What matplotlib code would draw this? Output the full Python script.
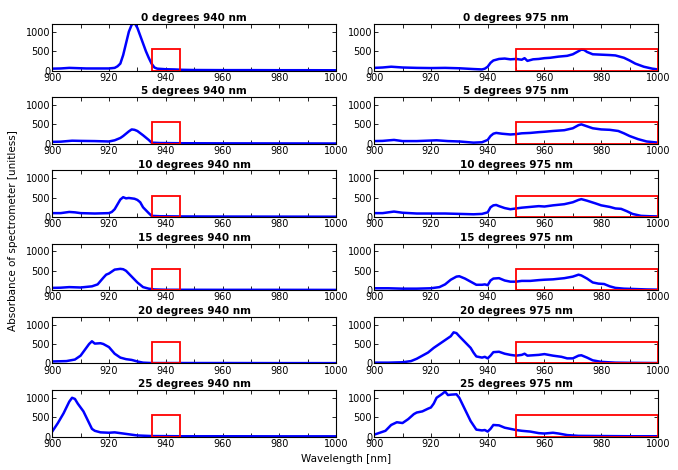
import matplotlib
matplotlib.use("Agg")
import matplotlib.pyplot as plt
import matplotlib.patches as mpatches

# Panel titles
angles = [0, 5, 10, 15, 20, 25]
bands = [940, 975]

# Integration windows per band: (start, end, height)
win_940 = (935, 945, 550)
win_975 = (950, 1000, 550)

# --- 940 nm spectra (wavelength, absorbance) ---
wl_0_940 = [900, 903, 906, 908, 912, 916, 920, 922, 923, 924, 925, 926, 927, 928, 929,
            930, 931, 932, 933, 934, 935, 936, 937, 940, 943, 946, 950, 960, 970, 980, 990, 1000]
ab_0_940 = [50, 55, 70, 65, 55, 55, 55, 70, 110, 180, 400, 700, 1000, 1180, 1230,
            1100, 900, 700, 500, 330, 180, 80, 50, 35, 30, 20, 15, 12, 12, 10, 10, 8]

wl_5_940 = [900, 903, 907, 910, 915, 920, 922, 924, 925, 927, 928, 929, 930, 932, 934,
            935, 938, 945, 960, 980, 1000]
ab_5_940 = [50, 55, 80, 75, 70, 60, 90, 150, 200, 320, 370, 360, 330, 220, 100,
            30, 20, 15, 12, 10, 8]

wl_10_940 = [900, 903, 906, 908, 910, 915, 920, 921, 922, 924, 925, 926, 927, 929, 930,
             931, 932, 934, 935, 938, 945, 960, 980, 1000]
ab_10_940 = [100, 100, 130, 120, 100, 90, 100, 130, 200, 450, 510, 480, 490, 470, 440,
             380, 250, 100, 30, 20, 15, 12, 10, 8]

wl_15_940 = [900, 903, 906, 910, 914, 916, 918, 919, 920, 922, 924, 925, 926, 928, 930,
             932, 934, 936, 940, 960, 980, 1000]
ab_15_940 = [60, 65, 80, 70, 100, 150, 320, 400, 430, 530, 550, 540, 500, 350, 200,
             80, 40, 20, 12, 10, 10, 8]

wl_20_940 = [900, 905, 908, 910, 912, 913, 914, 915, 917, 918, 920, 922, 924, 926, 928,
             930, 932, 935, 940, 960, 980, 1000]
ab_20_940 = [50, 60, 100, 200, 400, 500, 570, 510, 520, 500, 420, 250, 150, 110, 90,
             50, 20, 10, 10, 10, 8, 8]

wl_25_940 = [900, 902, 904, 906, 907, 908, 909, 910, 911, 912, 913, 914, 915, 917, 920,
             922, 925, 928, 930, 935, 945, 960, 980, 1000]
ab_25_940 = [130, 350, 600, 900, 1000, 970, 850, 750, 650, 500, 350, 200, 150, 110, 100,
             110, 80, 50, 30, 15, 10, 10, 8, 8]

# --- 975 nm spectra ---
wl_0_975 = [900, 903, 906, 910, 915, 920, 925, 930, 935, 938, 939, 940, 941, 942, 944,
            946, 948, 950, 952, 953, 954, 956, 958, 960, 962, 965, 968, 970, 972, 973,
            974, 975, 977, 980, 983, 985, 988, 990, 992, 995, 998, 1000]
ab_0_975 = [70, 80, 100, 80, 70, 65, 70, 60, 40, 30, 50, 100, 200, 260, 300,
            310, 290, 300, 280, 320, 250, 290, 300, 320, 330, 360, 380, 420, 500, 540,
            530, 480, 420, 410, 400, 390, 330, 260, 180, 100, 50, 30]

wl_5_975 = [900, 903, 907, 910, 915, 922, 926, 930, 935, 938, 940, 941, 942, 943, 945,
            948, 950, 952, 955, 958, 960, 963, 967, 970, 972, 973, 975, 977, 980, 983,
            986, 988, 990, 993, 996, 1000]
ab_5_975 = [70, 75, 100, 70, 70, 90, 70, 60, 30, 40, 100, 200, 260, 280, 260,
            240, 250, 270, 280, 300, 310, 330, 350, 400, 480, 500, 450, 400, 370, 360,
            330, 270, 200, 120, 60, 30]

wl_10_975 = [900, 903, 907, 910, 915, 920, 925, 930, 935, 938, 940, 941, 942, 943, 944,
             946, 948, 950, 952, 955, 958, 960, 963, 967, 970, 972, 973, 975, 978, 980,
             983, 985, 987, 989, 991, 994, 997, 1000]
ab_10_975 = [100, 100, 140, 110, 90, 90, 90, 80, 70, 80, 120, 250, 300, 310, 280,
             230, 200, 220, 240, 260, 280, 270, 300, 330, 380, 440, 460, 420, 350, 300,
             260, 220, 210, 150, 80, 30, 20, 15]

wl_15_975 = [900, 905, 910, 915, 920, 923, 925, 927, 929, 930, 932, 934, 936, 938, 939,
             940, 941, 942, 944, 946, 948, 950, 952, 955, 958, 960, 963, 967, 970, 972,
             973, 975, 977, 979, 981, 983, 985, 988, 992, 996, 1000]
ab_15_975 = [50, 50, 40, 40, 50, 80, 150, 270, 350, 360, 300, 220, 140, 140, 150,
             130, 250, 300, 310, 250, 220, 220, 240, 240, 260, 270, 280, 310, 350, 400,
             380, 300, 200, 170, 160, 100, 60, 40, 30, 20, 15]

wl_20_975 = [900, 905, 910, 913, 915, 917, 919, 921, 923, 925, 927, 928, 929, 930, 932,
             934, 935, 936, 938, 939, 940, 941, 942, 944, 946, 948, 950, 952, 953, 954,
             956, 958, 960, 963, 966, 968, 970, 972, 973, 975, 977, 980, 985, 990, 1000]
ab_20_975 = [20, 20, 30, 60, 120, 200, 280, 400, 500, 600, 700, 800, 780, 700, 550,
             400, 280, 180, 150, 170, 130, 200, 290, 300, 250, 220, 200, 220, 250, 200,
             210, 220, 240, 200, 170, 130, 130, 200, 210, 150, 80, 40, 20, 15, 10]

wl_25_975 = [900, 902, 904, 906, 908, 910, 912, 914, 915, 917, 919, 920, 921, 922, 924,
             925, 926, 927, 929, 930, 932, 934, 936, 938, 939, 940, 941, 942, 944, 946,
             948, 950, 952, 955, 958, 960, 963, 965, 968, 972, 980, 990, 1000]
ab_25_975 = [50, 100, 150, 300, 370, 350, 450, 580, 620, 650, 720, 750, 850, 1000, 1100,
             1160, 1070, 1080, 1090, 1000, 700, 400, 180, 160, 170, 130, 200, 300, 290, 230,
             200, 170, 150, 130, 90, 80, 100, 80, 40, 20, 15, 10, 10]

spectra_940 = [(wl_0_940, ab_0_940), (wl_5_940, ab_5_940), (wl_10_940, ab_10_940),
               (wl_15_940, ab_15_940), (wl_20_940, ab_20_940), (wl_25_940, ab_25_940)]
spectra_975 = [(wl_0_975, ab_0_975), (wl_5_975, ab_5_975), (wl_10_975, ab_10_975),
               (wl_15_975, ab_15_975), (wl_20_975, ab_20_975), (wl_25_975, ab_25_975)]

plt.rcParams['font.family'] = 'DejaVu Sans'
plt.rcParams['font.size'] = 7

fig, axes = plt.subplots(6, 2, figsize=(6.78, 4.70), dpi=100)
fig.subplots_adjust(left=0.077, right=0.9705, top=0.949, bottom=0.071,
                    hspace=0.57, wspace=0.134)

for col, (band, spectra, win) in enumerate([(940, spectra_940, win_940),
                                             (975, spectra_975, win_975)]):
    for row, (angle, (wl, ab)) in enumerate(zip(angles, spectra)):
        ax = axes[row, col]
        ax.plot(wl, ab, color='blue', lw=1.8)
        x0, x1, h = win
        ax.add_patch(mpatches.Rectangle((x0, 0), x1 - x0, h, fill=False,
                                        ec='red', lw=1.3, zorder=3))
        ax.set_xlim(900, 1000)
        ax.set_ylim(0, 1200)
        ax.set_xticks(range(900, 1001, 20))
        ax.set_xticks(range(900, 1001, 10), minor=True)
        ax.set_yticks([0, 500, 1000])
        ax.tick_params(which='both', direction='in', top=True, right=True,
                       length=3, width=0.6, pad=1.5, labelsize=7)
        for sp in ax.spines.values():
            sp.set_linewidth(0.8)
        ax.set_title(f"{angle} degrees {band} nm", fontweight='bold',
                     fontsize=7.5, pad=2)

fig.text(0.51, 0.012, "Wavelength [nm]", ha='center', va='bottom', fontsize=7.5)
fig.text(0.012, 0.51, "Absorbance of spectrometer [unitless]", rotation=90,
         ha='left', va='center', fontsize=7.5)

fig.savefig("out.png", dpi=100)
